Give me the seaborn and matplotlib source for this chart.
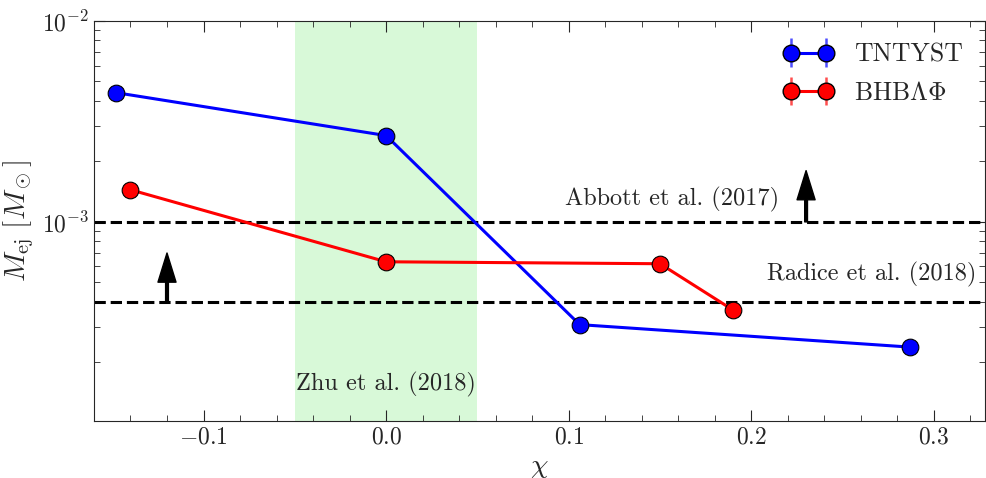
import matplotlib
matplotlib.use("Agg")
import matplotlib.pyplot as plt
from matplotlib.legend_handler import HandlerErrorbar
from matplotlib.container import ErrorbarContainer
import seaborn as sns

# === data ===
chi_tntyst = [-0.148, 0.0, 0.106, 0.287]
mej_tntyst = [4.40e-3, 2.69e-3, 3.08e-4, 2.38e-4]

chi_bhb = [-0.140, 0.0, 0.150, 0.190]
mej_bhb = [1.445e-3, 6.33e-4, 6.19e-4, 3.64e-4]

abbott_limit = 1.0e-3
radice_limit = 4.0e-4
zhu_band = [-0.05, 0.05]

# === style ===
sns.set_style("ticks")
plt.rcParams["font.family"] = ["cmr10", "DejaVu Serif"]
plt.rcParams["mathtext.fontset"] = "cm"
plt.rcParams["axes.formatter.use_mathtext"] = True
plt.rcParams["font.size"] = 17
plt.rcParams["xtick.direction"] = "in"
plt.rcParams["ytick.direction"] = "in"
plt.rcParams["xtick.top"] = True
plt.rcParams["ytick.right"] = True
plt.rcParams["xtick.minor.visible"] = True
plt.rcParams["ytick.minor.visible"] = True

fig = plt.figure(figsize=(9.87, 4.78), dpi=100)
ax = fig.add_axes([0.0952, 0.1192, 0.9028, 0.8368])

# Zhu et al. band
ax.axvspan(zhu_band[0], zhu_band[1], color="lightgreen", alpha=0.35, lw=0, zorder=0)

# lower limits
ax.axhline(abbott_limit, color="k", ls="--", lw=2.2, zorder=1)
ax.axhline(radice_limit, color="k", ls="--", lw=2.2, zorder=1)

arrow_kw = dict(facecolor="black", edgecolor="black", width=2, headwidth=13, headlength=21, shrink=0)
ax.annotate("", xy=(0.230, 1.8e-3), xytext=(0.230, abbott_limit), arrowprops=arrow_kw)
ax.annotate("", xy=(-0.120, 7.0e-4), xytext=(-0.120, radice_limit), arrowprops=arrow_kw)

# curves
sns.lineplot(x=chi_tntyst, y=mej_tntyst, color="blue", marker="o", markersize=12,
             markeredgecolor="k", markeredgewidth=0.8, lw=2.2, ax=ax, zorder=3)
sns.lineplot(x=chi_bhb, y=mej_bhb, color="red", marker="o", markersize=12,
             markeredgecolor="k", markeredgewidth=0.8, lw=2.2, ax=ax, zorder=3)

# legend handles in errorbar style
h1 = ax.errorbar([], [], yerr=[], fmt="o-", color="blue", ecolor="#4d4dff", mec="k",
                 ms=12, lw=2.2, elinewidth=1.8, capsize=2.5, capthick=1.8)
h2 = ax.errorbar([], [], yerr=[], fmt="o-", color="red", ecolor="#ff4d4d", mec="k",
                 ms=12, lw=2.2, elinewidth=1.8, capsize=2.5, capthick=1.8)
ax.legend([h1, h2], ["TNTYST", r"BHB$\Lambda\Phi$"], loc="upper right", frameon=False,
          numpoints=2, fontsize=18.5, handlelength=1.95, borderaxespad=0.45, labelspacing=0.58,
          handler_map={ErrorbarContainer: HandlerErrorbar(yerr_size=0.55)})

# text labels
ax.text(0.2155, 1.30e-3, "Abbott et al. (2017)", ha="right", va="center", fontsize=17.5)
ax.text(0.323, 5.5e-4, "Radice et al. (2018)", ha="right", va="center", fontsize=17.5)
ax.text(0.0, 1.55e-4, "Zhu et al. (2018)", ha="center", va="center", fontsize=17.5)

ax.set_yscale("log")
ax.set_xlim(-0.16, 0.328)
ax.set_ylim(1.02e-4, 1e-2)
ax.set_xlabel(r"$\chi$", fontsize=20)
ax.set_ylabel(r"$M_{\rm ej}\ [M_\odot]$", fontsize=21)
ax.tick_params(which="major", length=8, labelsize=17)
ax.tick_params(which="minor", length=4)

fig.savefig("out.png", dpi=100)
